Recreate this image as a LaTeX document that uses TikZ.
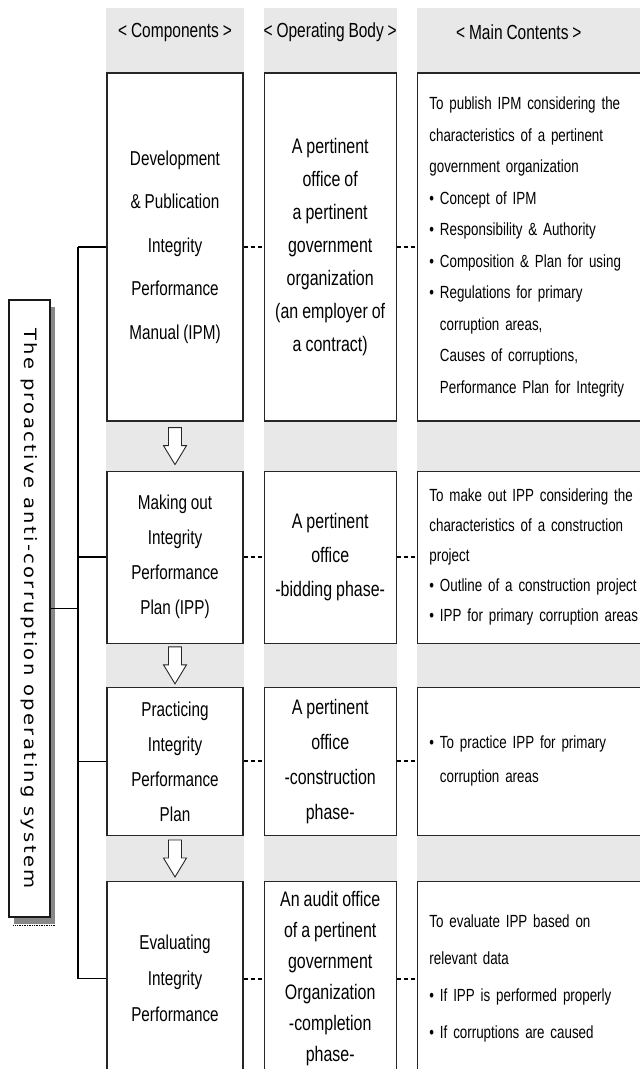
\documentclass[tikz,border=0pt]{standalone}
\usepackage{fontspec}
\setmainfont{Liberation Sans}[FakeStretch=0.76,WordSpace=0.9]
\newfontfamily\sidefont{DejaVu Sans}[FakeStretch=1.15,LetterSpace=14]
\usepackage{tikz}
\usetikzlibrary{positioning,calc,backgrounds,shadows}
\definecolor{colGray}{RGB}{232,232,232}
\definecolor{shadeGray}{RGB}{136,136,136}
\newcommand{\fsz}[2]{\fontsize{#1}{#2}\selectfont}
\newcommand{\bul}{\textbullet\ }
\newcommand{\bulsp}{\hphantom{\textbullet\ }}
\tikzset{
  comp/.style={draw=black!85,line width=1.2pt,fill=white,minimum width=136pt,
               inner sep=2pt,align=center},
  opbody/.style={draw=black!85,line width=1.2pt,fill=white,minimum width=132pt,
                 inner sep=2pt,align=center},
  cont/.style={draw=black!85,line width=1.2pt,fill=white,text width=230pt,
               inner xsep=12pt,inner ysep=2pt,align=left},
  hdr/.style={font=\fsz{20.4}{22}},
  sysbox/.style={draw=black!90,line width=1.2pt,fill=white,minimum width=41pt,
                 minimum height=617pt,inner sep=0pt,
                 general shadow={fill=shadeGray,shadow xshift=4.5pt,shadow yshift=-6.5pt}},
  systext/.style={rotate=-90,font=\sidefont\fsz{17}{19}},
  tree/.style={line width=1.6pt},
  dlink/.style={line width=2pt,dash pattern=on 4.5pt off 2.5pt},
  blockarr/.style={draw=black!85,line width=0.9pt,fill=white,line join=miter},
}

\begin{document}
\begin{tikzpicture}[x=1pt,y=-1pt]
  \useasboundingbox (0,0) rectangle (640,1069);

  %% ── Components column ───────────────────────────────────────────────────
  \node[comp,minimum height=348pt,font=\fsz{20.1}{43.5}] (comp1) at (175,247)
    {Development\\\& Publication\\Integrity\\Performance\\Manual (IPM)};
  \node[comp,minimum height=172pt,font=\fsz{20.1}{35},below=49pt of comp1] (comp2)
    {Making out\\Integrity\\Performance\\Plan (IPP)};
  \node[comp,minimum height=148pt,font=\fsz{20.1}{35},below=43pt of comp2] (comp3)
    {Practicing\\Integrity\\Performance\\Plan};
  \node[comp,minimum height=194pt,font=\fsz{20.1}{36},below=45pt of comp3] (comp4)
    {Evaluating\\Integrity\\Performance};

  %% ── Operating body column ───────────────────────────────────────────────
  \node[opbody,minimum height=348pt,font=\fsz{21}{33},right=20pt of comp1] (body1)
    {A pertinent\\office of\\a pertinent\\government\\organization\\(an employer of\\a contract)};
  \node[opbody,minimum height=172pt,font=\fsz{21}{34},right=20pt of comp2] (body2)
    {A pertinent\\office\\-bidding phase-};
  \node[opbody,minimum height=148pt,font=\fsz{21}{35},right=20pt of comp3] (body3)
    {A pertinent\\office\\-construction\\phase-};
  \node[opbody,minimum height=194pt,font=\fsz{21}{31},right=20pt of comp4] (body4)
    {An audit office\\of a pertinent\\government\\Organization\\-completion\\phase-};

  %% ── Main contents column ────────────────────────────────────────────────
  \node[cont,minimum height=348pt,font=\fsz{17.6}{31.5},right=20pt of body1] (cont1)
    {To publish IPM considering the\\characteristics of a pertinent\\government organization\\
     \bul Concept of IPM\\\bul Responsibility \& Authority\\\bul Composition \& Plan for using\\
     \bul Regulations for primary\\\bulsp corruption areas,\\\bulsp Causes of corruptions,\\
     \bulsp Performance Plan for Integrity};
  \node[cont,minimum height=172pt,font=\fsz{17.6}{30},right=20pt of body2] (cont2)
    {To make out IPP considering the\\characteristics of a construction\\project\\
     \bul Outline of a construction project\\\bul IPP for primary corruption areas};
  \node[cont,minimum height=148pt,font=\fsz{17.6}{34},right=20pt of body3] (cont3)
    {\bul To practice IPP for primary\\\bulsp corruption areas};
  \node[cont,minimum height=194pt,font=\fsz{17.6}{37},right=20pt of body4] (cont4)
    {To evaluate IPP based on\\relevant data\\\bul If IPP is performed properly\\
     \bul If corruptions are caused};

  %% ── Column headers ──────────────────────────────────────────────────────
  \coordinate (hdrline) at (0,32);
  \coordinate (c3mid) at ([xshift=102pt]cont1.west);
  \node[hdr] (hcomp) at (comp1 |- hdrline) {< Components >};
  \node[hdr] (hbody) at (body1 |- hdrline) {< Operating Body >};
  \node[hdr] (hcont) at (c3mid |- hdrline) {< Main Contents >};

  %% ── System box and tree ─────────────────────────────────────────────────
  \node[sysbox] (sys) at (29.5,608.5) {};
  \node[systext] (systxt) at (sys.center) {The proactive anti-corruption operating system};
  \draw[densely dotted,line width=0.7pt] ([xshift=5pt,yshift=-8pt]sys.south west)
    -- ([xshift=5pt,yshift=-8pt]sys.south east);
  \coordinate (trunk) at (78,0);
  \draw[tree] (sys.east) -- (sys.east -| trunk);
  \draw[tree] (comp1.west -| trunk) -- (comp4.west -| trunk);
  \foreach \r in {1,...,4}
    \draw[tree] (comp\r.west -| trunk) -- (comp\r.west);

  %% ── Dashed links ────────────────────────────────────────────────────────
  \foreach \r in {1,...,4}{
    \draw[dlink] (comp\r.east) -- (body\r.west);
    \draw[dlink] (body\r.east) -- (cont\r.west);
  }

  %% ── Block arrows ────────────────────────────────────────────────────────
  \foreach \a/\b in {comp1/comp2,comp2/comp3,comp3/comp4}{
    \coordinate (mid) at ($(\a.south)!0.5!(\b.north)$);
    \draw[blockarr] ($(mid)+(-6.5,-18.5)$) -- ++(13,0) -- ++(0,18) -- ++(5,0)
      -- ($(mid)+(0,18.5)$) -- ++(-11.5,-19) -- ++(5,0) -- cycle;
  }

  %% ── Gray column bands ───────────────────────────────────────────────────
  \begin{scope}[on background layer]
    \foreach \c in {comp,body,cont}
      \fill[colGray] (\c1.west |- 0,8) rectangle (\c4.east |- 0,1080);
  \end{scope}
\end{tikzpicture}
\end{document}
